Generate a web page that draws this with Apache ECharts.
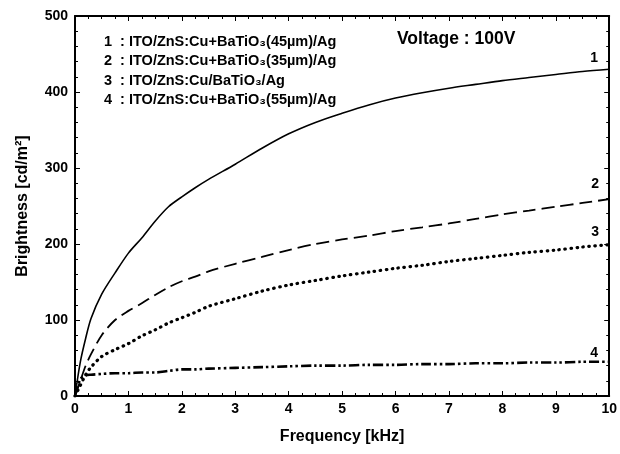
<!DOCTYPE html>
<html>
<head>
<meta charset="utf-8">
<script src="https://cdn.jsdelivr.net/npm/echarts@6/dist/echarts.min.js"></script>
<style>html,body{margin:0;padding:0;background:#fff;}#c{width:620px;height:454px;}</style>
</head>
<body>
<div id="c"></div>
<script>
const freq   = [0, 0.1, 0.2, 0.3, 0.5, 0.75, 1, 1.25, 1.5, 1.75, 2, 2.25, 2.5, 3, 3.5, 4, 4.5, 5, 5.5, 6, 6.5, 7, 7.5, 8, 8.5, 9, 9.5, 10];
const curve1 = [0, 45, 76, 102, 134, 162, 188, 208, 230, 249, 262, 274, 285, 305, 326, 345, 360, 372, 383, 392, 399, 405, 410, 415, 419, 423, 427, 430];
const curve2 = [0, 20, 40, 55, 80, 100, 112, 122, 133, 143, 151, 157, 164, 174, 183, 192, 200, 206, 211, 217, 222, 227, 233, 239, 244, 249, 254, 259];
const curve3 = [0, 14, 28, 38, 52, 61, 69, 79, 87, 96, 103, 110, 118, 128, 138, 146, 152, 158, 163, 168, 172, 177, 181, 185, 189, 192, 196, 199];
const curve4 = [0, 22, 27, 28, 29, 30, 30, 31, 31, 33, 35, 35, 36, 37, 38, 39, 40, 40, 41, 41, 42, 42, 43, 43, 44, 44, 45, 45];
const curveNames = ['1', '2', '3', '4'];
const legendLines = [
  '1  : ITO/ZnS:Cu+BaTiO₃(45µm)/Ag',
  '2  : ITO/ZnS:Cu+BaTiO₃(35µm)/Ag',
  '3  : ITO/ZnS:Cu/BaTiO₃/Ag',
  '4  : ITO/ZnS:Cu+BaTiO₃(55µm)/Ag'
];
const voltageText = 'Voltage : 100V';
const xTitle = 'Frequency [kHz]';
const yTitle = 'Brightness [cd/m²]';

const FONT = 'Liberation Sans, Arial, sans-serif';
const chart = echarts.init(document.getElementById('c'), null, {renderer: 'canvas'});

function pairs(ys) { return freq.map((x, i) => [x, ys[i]]); }

const styles = [
  {type: 'solid', width: 1.6, cap: 'butt'},
  {type: [13, 6], width: 1.8, cap: 'butt'},
  {type: [0.5, 5.5], width: 3.2, cap: 'round'},
  {type: [10, 3, 2.5, 3, 2.5, 3], width: 2.6, cap: 'butt'}
];
const labelOffsets = [[-15, -11], [-14, -15], [-14, -13], [-15, -9]];
const allCurves = [curve1, curve2, curve3, curve4];

const series = allCurves.map((c, i) => ({
  type: 'line',
  name: curveNames[i],
  data: pairs(c),
  smooth: 0.3,
  showSymbol: false,
  lineStyle: Object.assign({color: '#000'}, styles[i]),
  endLabel: {
    show: true,
    formatter: curveNames[i],
    color: '#000',
    fontFamily: FONT,
    fontWeight: 'bold',
    fontSize: 14,
    offset: labelOffsets[i],
    align: 'center',
    verticalAlign: 'middle',
    distance: 0
  },
  animation: false,
  z: 3
}));

const axisLabelStyle = {color: '#000', fontFamily: FONT, fontWeight: 'bold', fontSize: 14};

chart.setOption({
  animation: false,
  backgroundColor: '#fff',
  grid: {left: 75, right: 8, top: 16, bottom: 58, containLabel: false},
  xAxis: [{
    type: 'value', min: 0, max: 10, interval: 1,
    name: xTitle, nameLocation: 'middle', nameGap: 33,
    nameTextStyle: {color: '#000', fontFamily: FONT, fontWeight: 'bold', fontSize: 16},
    axisLine: {show: true, onZero: false, lineStyle: {color: '#000', width: 2}},
    axisTick: {show: true, inside: true, length: 5, lineStyle: {color: '#000', width: 1}},
    minorTick: {show: true, splitNumber: 4, length: 3, lineStyle: {color: '#000', width: 1}},
    axisLabel: Object.assign({margin: 6}, axisLabelStyle),
    splitLine: {show: false}
  }, {
    type: 'value', min: 0, max: 10, interval: 1, position: 'top',
    axisLine: {show: true, onZero: false, lineStyle: {color: '#000', width: 2}},
    axisTick: {show: true, inside: true, length: 5, lineStyle: {color: '#000', width: 1}},
    minorTick: {show: true, splitNumber: 4, length: 3, lineStyle: {color: '#000', width: 1}},
    axisLabel: {show: false},
    splitLine: {show: false}
  }],
  yAxis: [{
    type: 'value', min: 0, max: 500, interval: 100,
    name: yTitle, nameLocation: 'middle', nameGap: 44, nameRotate: 90,
    nameTextStyle: {color: '#000', fontFamily: FONT, fontWeight: 'bold', fontSize: 16},
    axisLine: {show: true, onZero: false, lineStyle: {color: '#000', width: 2}},
    axisTick: {show: true, inside: true, length: 5, lineStyle: {color: '#000', width: 1}},
    minorTick: {show: true, splitNumber: 5, length: 3, lineStyle: {color: '#000', width: 1}},
    axisLabel: Object.assign({margin: 7}, axisLabelStyle),
    splitLine: {show: false}
  }, {
    type: 'value', min: 0, max: 500, interval: 100, position: 'right',
    axisLine: {show: true, onZero: false, lineStyle: {color: '#000', width: 2}},
    axisTick: {show: true, inside: true, length: 5, lineStyle: {color: '#000', width: 1}},
    minorTick: {show: true, splitNumber: 5, length: 3, lineStyle: {color: '#000', width: 1}},
    axisLabel: {show: false},
    splitLine: {show: false}
  }],
  graphic: legendLines.map((t, i) => ({
    type: 'text', left: 104, top: 34 + i * 19.5,
    style: {text: t, fill: '#000', font: 'bold 14.5px ' + FONT}
  })).concat([{
    type: 'text', left: 397, top: 30,
    style: {text: voltageText, fill: '#000', font: 'bold 17.5px ' + FONT}
  }]),
  series: series
});
</script>
</body>
</html>
